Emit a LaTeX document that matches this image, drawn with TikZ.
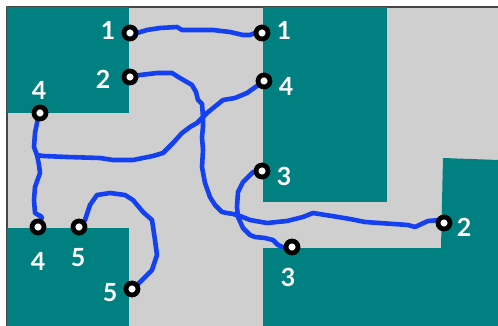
\documentclass[tikz,border=0pt]{standalone}
\usepackage{fontspec}
\setmainfont{Lato}
\definecolor{boardgray}{RGB}{207,207,207}
\definecolor{framegray}{RGB}{70,70,70}
\definecolor{padteal}{RGB}{0,128,128}
\definecolor{wireblue}{RGB}{20,64,240}

\begin{document}
\begin{tikzpicture}[x=1pt,y=-1pt,line join=round,line cap=round]
\tikzstyle{block} = [fill=padteal]
\tikzstyle{wire} = [draw,line width=4.6pt,wireblue]
\tikzstyle{pin} = [circle,draw=black,fill=white,line width=4.8pt,minimum size=12pt,inner sep=0pt]
\tikzstyle{pinlabel} = [text=white,inner sep=0pt,font=\fontsize{25}{25}\selectfont\bfseries]

\useasboundingbox (0,0) rectangle (498,326);

% board
\fill[boardgray] (7,7) rectangle (498,326);
\draw[framegray,line width=1.5pt,line cap=butt] (7,326) -- (7,7) -- (498,7);

\fill[block] (7,7) rectangle (129,113);
\fill[block] (263,7) rectangle (387,202);
\fill[block] (7,228) rectangle (129,326);
\fill[block] (443,158) -- (498,160) -- (498,326) -- (263,326) -- (263,248) -- (441,248) -- cycle;

% pins
\coordinate (p1a) at (130,33);
\coordinate (p1b) at (262,33);
\coordinate (p2a) at (130,77);
\coordinate (p2b) at (444,223);
\coordinate (p3a) at (262,171);
\coordinate (p3b) at (292,247);
\coordinate (p4a) at (40,113);
\coordinate (p4b) at (264,81);
\coordinate (p4c) at (38,227);
\coordinate (j4)  at (37,155);
\coordinate (p5a) at (79,227);
\coordinate (p5b) at (132,289);

% routed nets
\draw[wire] (p1a) -- (137,33) -- (147,30) -- (160,28) -- (177,27) -- (182,30) -- (213,30)
  -- (230,32) -- (243,35) -- (250,35) -- (255,33) -- (p1b);
\draw[wire] (p2a) -- (140,75) -- (157,73) -- (172,73) -- (180,78) -- (192,85) -- (196,92)
  -- (198,100) -- (202,104) -- (203,117) -- (203,127) -- (202,137) -- (203,150) -- (202,167)
  -- (205,183) -- (210,197) -- (215,205) -- (222,212) -- (227,213) -- (233,214) -- (240,216)
  -- (250,220) -- (267,223) -- (287,221) -- (303,217) -- (313,213) -- (338,217) -- (350,219)
  -- (365,222) -- (408,225) -- (415,227) -- (428,221) -- (440,220) -- (p2b);
\draw[wire] (p3a) -- (253,172) -- (243,182) -- (238,192) -- (237,207) -- (238,217) -- (243,228)
  -- (250,235) -- (255,237) -- (265,238) -- (273,240) -- (278,245) -- (285,248) -- (p3b);
\draw[wire] (p4a) -- (38,118) -- (35,133) -- (34,147) -- (j4) -- (43,156) -- (67,157) -- (100,158)
  -- (113,160) -- (133,160) -- (153,156) -- (163,153) -- (173,143) -- (182,133) -- (190,127)
  -- (197,123) -- (207,113) -- (223,100) -- (235,98) -- (247,93) -- (p4b);
\draw[wire] (j4) -- (39,165) -- (40,173) -- (35,187) -- (34,200) -- (35,213) -- (42,217) -- (p4c);
\draw[wire] (p5a) -- (85,220) -- (90,205) -- (97,195) -- (110,193) -- (125,195) -- (133,200)
  -- (143,212) -- (152,220) -- (155,240) -- (157,255) -- (152,270) -- (147,275) -- (137,285) -- (p5b);

\foreach \p in {p1a,p1b,p2a,p2b,p3a,p3b,p4a,p4b,p4c,p5a,p5b}
  \node[pin] (n\p) at (\p) {};

% net numbers
\node[pinlabel] (l1a) at (108,30) {1};
\node[pinlabel] (l1b) at (284,30) {1};
\node[pinlabel] (l2a) at (103,79) {2};
\node[pinlabel] (l2b) at (464,227) {2};
\node[pinlabel] (l3a) at (284,176) {3};
\node[pinlabel] (l3b) at (288,277) {3};
\node[pinlabel] (l4a) at (39,90) {4};
\node[pinlabel] (l4b) at (286,86) {4};
\node[pinlabel] (l4c) at (38,261) {4};
\node[pinlabel] (l5a) at (78,258) {5};
\node[pinlabel] (l5b) at (110,293) {5};

\end{tikzpicture}
\end{document}
